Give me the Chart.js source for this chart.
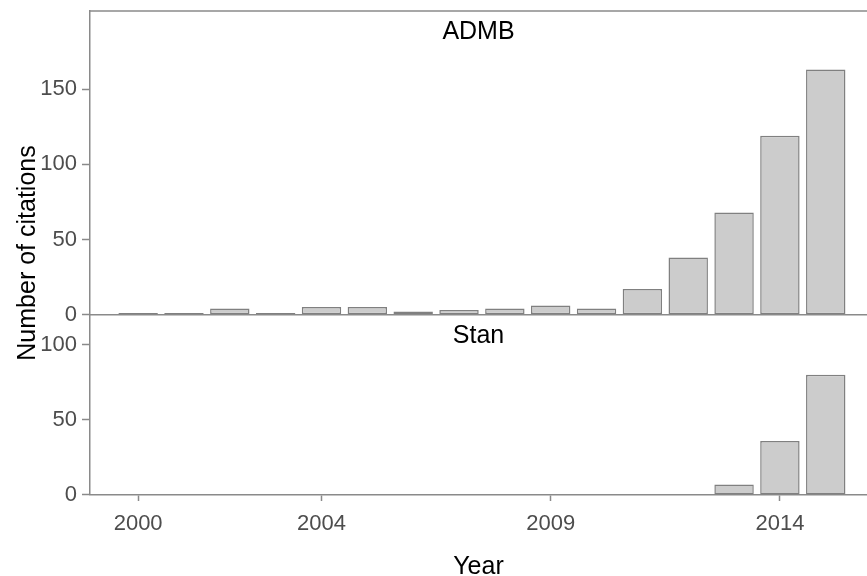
<!DOCTYPE html>
<html lang="en">
  <head>
    <meta charset="UTF-8" />
    <title>Citations per year: ADMB and Stan</title>
    <style>
      html,
      body {
        margin: 0;
        padding: 0;
        background: #ffffff;
      }
      canvas {
        display: block;
      }
    </style>
    <script src="https://cdn.jsdelivr.net/npm/chart.js"></script>
  </head>
  <body>
    <canvas id="citations" width="867" height="576"></canvas>

    <script>
      // Data
      const admbYears = [2000, 2001, 2002, 2003, 2004, 2005, 2006, 2007, 2008, 2009, 2010, 2011, 2012, 2013, 2014, 2015];
      const admbCounts = [1, 1, 4, 1, 5, 5, 2, 3, 4, 6, 4, 17, 38, 68, 119, 163];
      const stanYears = [2013, 2014, 2015];
      const stanCounts = [7, 36, 80];
      const yearTicks = [2000, 2004, 2009, 2014];
      const admbTicks = [0, 50, 100, 150];
      const stanTicks = [0, 50, 100];
      const panelNames = ["ADMB", "Stan"];

      const fontFamily = "'Liberation Sans', Arial, sans-serif";
      const axisGrey = "#8a8a8a";
      const tickText = "#4d4d4d";

      // facet strip labels, axis titles and the panel separators
      const panelDecor = {
        id: "panelDecor",
        afterDraw(chart) {
          const { ctx, chartArea } = chart;
          const yA = chart.scales.yAdmb;
          const yS = chart.scales.yStan;
          ctx.save();
          ctx.strokeStyle = axisGrey;
          ctx.lineWidth = 1.5;
          [chartArea.top, yA.getPixelForValue(0)].forEach((py) => {
            ctx.beginPath();
            ctx.moveTo(chartArea.left, py);
            ctx.lineTo(chartArea.right, py);
            ctx.stroke();
          });
          ctx.fillStyle = "#000000";
          ctx.font = "25px " + fontFamily;
          ctx.textAlign = "center";
          ctx.textBaseline = "middle";
          const cx = (chartArea.left + chartArea.right) / 2;
          ctx.fillText(panelNames[0], cx, yA.top + 21);
          ctx.fillText(panelNames[1], cx, yS.top + 21);
          ctx.fillText("Year", cx, chart.height - 9);
          ctx.translate(28, (chartArea.top + chartArea.bottom) / 2);
          ctx.rotate(-Math.PI / 2);
          ctx.fillText("Number of citations", 0, 0);
          ctx.restore();
        },
      };

      function yAxis(max, tickList, weight) {
        return {
          type: "linear",
          position: "left",
          stack: "panels",
          stackWeight: max,
          weight: weight,
          min: 0,
          max: max,
          afterBuildTicks: (scale) => {
            scale.ticks = tickList.map((v) => ({ value: v }));
          },
          afterFit: (scale) => {
            scale.width = 90;
            scale.paddingTop = 0;
            scale.paddingBottom = 0;
          },
          border: { display: true, color: axisGrey, width: 1.5 },
          grid: {
            drawOnChartArea: false,
            drawTicks: true,
            tickLength: 8,
            tickColor: axisGrey,
            tickWidth: 1.5,
          },
          ticks: {
            color: tickText,
            font: { family: fontFamily, size: 22 },
            padding: 5,
          },
        };
      }

      const barStyle = {
        backgroundColor: "#cccccc",
        borderColor: "#808080",
        borderWidth: 1.5,
        borderSkipped: false,
        grouped: false,
        barPercentage: 0.86,
        categoryPercentage: 1,
      };

      const ctx = document.getElementById("citations").getContext("2d");
      const chart = new Chart(ctx, {
        type: "bar",
        data: {
          datasets: [
            Object.assign(
              {
                label: panelNames[0],
                yAxisID: "yAdmb",
                data: admbYears.map((yr, i) => ({ x: yr, y: admbCounts[i] })),
              },
              barStyle
            ),
            Object.assign(
              {
                label: panelNames[1],
                yAxisID: "yStan",
                data: stanYears.map((yr, i) => ({ x: yr, y: stanCounts[i] })),
              },
              barStyle
            ),
          ],
        },
        options: {
          responsive: false,
          animation: false,
          layout: { padding: { top: 11, right: 0, bottom: 0, left: 0 } },
          plugins: {
            legend: { display: false },
            tooltip: { enabled: false },
          },
          scales: {
            x: {
              type: "linear",
              offset: false,
              min: 1998.95,
              max: 2015.9,
              afterBuildTicks: (scale) => {
                scale.ticks = yearTicks.map((v) => ({ value: v }));
              },
              afterFit: (scale) => {
                scale.height = 81;
                scale.paddingLeft = 0;
                scale.paddingRight = 0;
              },
              border: { display: true, color: axisGrey, width: 1.5 },
              grid: {
                offset: false,
                drawOnChartArea: false,
                drawTicks: true,
                tickLength: 6,
                tickColor: axisGrey,
                tickWidth: 1.5,
              },
              ticks: {
                color: tickText,
                font: { family: fontFamily, size: 22 },
                padding: 10,
                maxRotation: 0,
                callback: (v) => String(v),
              },
            },
            yAdmb: yAxis(202, admbTicks, 1),
            yStan: yAxis(120, stanTicks, 0),
          },
        },
        plugins: [panelDecor],
      });
    </script>
  </body>
</html>
